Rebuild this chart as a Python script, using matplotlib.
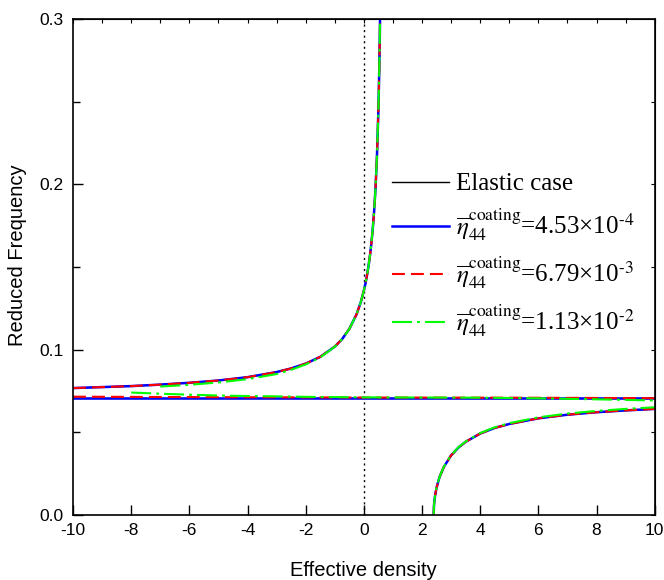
import matplotlib
matplotlib.use("Agg")
import matplotlib.pyplot as plt
from matplotlib.ticker import MultipleLocator
from matplotlib.lines import Line2D

plt.rcParams['font.family'] = ['Liberation Sans', 'DejaVu Sans']
plt.rcParams['mathtext.fontset'] = 'stix'
plt.rcParams['axes.unicode_minus'] = False

# upper branch (effective density < asymptote)
x_up = [-10, -9, -8, -7, -6, -5, -4, -3, -2.5, -2, -1.5, -1, -0.75, -0.5,
        -0.25, -0.1, 0, 0.05, 0.1, 0.15, 0.2, 0.25, 0.3, 0.35, 0.4, 0.45,
        0.5, 0.53, 0.55, 0.56]
y_up = [0.0768, 0.0774, 0.0780, 0.0789, 0.0800, 0.0814, 0.0834, 0.0865,
        0.0887, 0.0916, 0.0957, 0.1019, 0.1064, 0.1126, 0.1215, 0.1291,
        0.1358, 0.1397, 0.1443, 0.1495, 0.1557, 0.1630, 0.1720, 0.1831,
        0.1975, 0.2170, 0.2454, 0.2700, 0.2920, 0.3054]

# lower branch (right of the cut-off)
x_lo = [2.40, 2.41, 2.42, 2.45, 2.5, 2.6, 2.75, 3, 3.25, 3.5, 4, 4.5, 5, 6,
        7, 8, 9, 10]
y_lo = [0.0, 0.0055, 0.0076, 0.0120, 0.0166, 0.0229, 0.0291, 0.0361,
        0.0408, 0.0443, 0.0493, 0.0527, 0.0551, 0.0585, 0.0607, 0.0622,
        0.0633, 0.0642]

# flat branch
x_flat = [-10, 10]
y_flat = [0.0711, 0.0711]

# red case: flat branch slightly tilted
x_flat_red = [-10, -5, 0, 5, 10]
y_flat_red = [0.0716, 0.0713, 0.0711, 0.0710, 0.0707]

# green case: visible deviations
x_up_green = [-7, -6, -5, -4, -3, -2.5, -2, -1.5, -1, -0.75, -0.5, -0.25,
              -0.1, 0, 0.05, 0.1, 0.15, 0.2, 0.25, 0.3, 0.35, 0.4, 0.45, 0.5,
              0.53, 0.55, 0.56]
y_up_green = [0.0777, 0.0788, 0.0802, 0.0822, 0.0853, 0.0879, 0.0911,
              0.0954, 0.1018, 0.1064, 0.1126, 0.1215, 0.1291, 0.1358, 0.1397,
              0.1443, 0.1495, 0.1557, 0.1630, 0.1720, 0.1831, 0.1975, 0.2170,
              0.2454, 0.2700, 0.2920, 0.3054]
x_flat_green = [-8.0, -7, -6, -5, -4, -3, -2, 0, 4, 6, 8, 10]
y_flat_green = [0.0741, 0.0734, 0.0728, 0.0723, 0.0720, 0.0718, 0.0715,
                0.0712, 0.0710, 0.0706, 0.0700, 0.0693]
x_lo_green = [2.40, 2.41, 2.42, 2.45, 2.5, 2.6, 2.75, 3, 3.25, 3.5, 4, 4.5,
              5, 6, 7, 8, 9, 10]
y_lo_green = [0.0, 0.0055, 0.0076, 0.0120, 0.0167, 0.0230, 0.0292, 0.0362,
              0.0410, 0.0445, 0.0496, 0.0531, 0.0556, 0.0591, 0.0614, 0.0630,
              0.0642, 0.0652]

labels = ['Elastic case',
          r'$\overline{\eta}_{44}^{\mathrm{coating}}$=4.53×10$^{\text{-4}}$',
          r'$\overline{\eta}_{44}^{\mathrm{coating}}$=6.79×10$^{\text{-3}}$',
          r'$\overline{\eta}_{44}^{\mathrm{coating}}$=1.13×10$^{\text{-2}}$']

fig = plt.figure(figsize=(6.64, 5.80), dpi=100)
ax = fig.add_axes([0.110, 0.112, 0.876, 0.855])

dash_red = (0, (6.2, 2.9))
dash_green = (0, (9.6, 2.4, 1.4, 2.4))

# elastic (black)
for xs, ys in [(x_up, y_up), (x_flat, y_flat), (x_lo, y_lo)]:
    ax.plot(xs, ys, color='k', lw=1.0)
# blue
for xs, ys in [(x_up, y_up), (x_flat, y_flat), (x_lo, y_lo)]:
    ax.plot(xs, ys, color='#0000ff', lw=1.8)
# red
for xs, ys in [(x_up, y_up), (x_flat_red, y_flat_red), (x_lo, y_lo)]:
    ax.plot(xs, ys, color='#ff0000', lw=1.5, linestyle=dash_red)
# green
for xs, ys in [(x_up_green, y_up_green), (x_flat_green, y_flat_green),
               (x_lo_green, y_lo_green)]:
    ax.plot(xs, ys, color='#00ff00', lw=1.5, linestyle=dash_green)

ax.axvline(0, color='k', lw=1.0, linestyle=(0, (1.5, 2.5)), zorder=0)

ax.set_xlim(-10, 10)
ax.set_ylim(0.0, 0.3)
ax.xaxis.set_major_locator(MultipleLocator(2))
ax.yaxis.set_major_locator(MultipleLocator(0.1))
ax.yaxis.set_minor_locator(MultipleLocator(0.05))
ax.set_yticks([0.0, 0.1, 0.2, 0.3], ['0.0', '0.1', '0.2', '0.3'])
ax.tick_params(which='major', direction='in', length=7, width=1.0,
               labelsize=12.5)
ax.tick_params(axis='x', pad=6)
ax.tick_params(axis='y', pad=7)
ax.tick_params(which='minor', direction='in', length=5, width=1.0)
for sp in ax.spines.values():
    sp.set_linewidth(1.2)

top = ax.secondary_xaxis('top')
top.xaxis.set_major_locator(MultipleLocator(1))
top.tick_params(direction='in', length=3, labeltop=False)
right = ax.secondary_yaxis('right')
right.yaxis.set_major_locator(MultipleLocator(0.05))
right.tick_params(direction='in', length=3, labelright=False)

ax.set_xlabel('Effective density', fontsize=14.5, labelpad=16)
ax.set_ylabel('Reduced Frequency', fontsize=14.5)
ax.yaxis.set_label_coords(-0.079, 0.524)

handles = [Line2D([], [], color='k', lw=1.0),
           Line2D([], [], color='#0000ff', lw=1.8),
           Line2D([], [], color='#ff0000', lw=1.5, linestyle=dash_red),
           Line2D([], [], color='#00ff00', lw=1.5, linestyle=dash_green)]
ax.legend(handles, labels, loc='upper left', bbox_to_anchor=(0.548, 0.690),
          frameon=False, borderpad=0, borderaxespad=0, handlelength=2.3,
          handletextpad=0.28, labelspacing=0.46,
          prop={'family': 'Liberation Serif', 'size': 18})

fig.savefig('out.png', dpi=100)
